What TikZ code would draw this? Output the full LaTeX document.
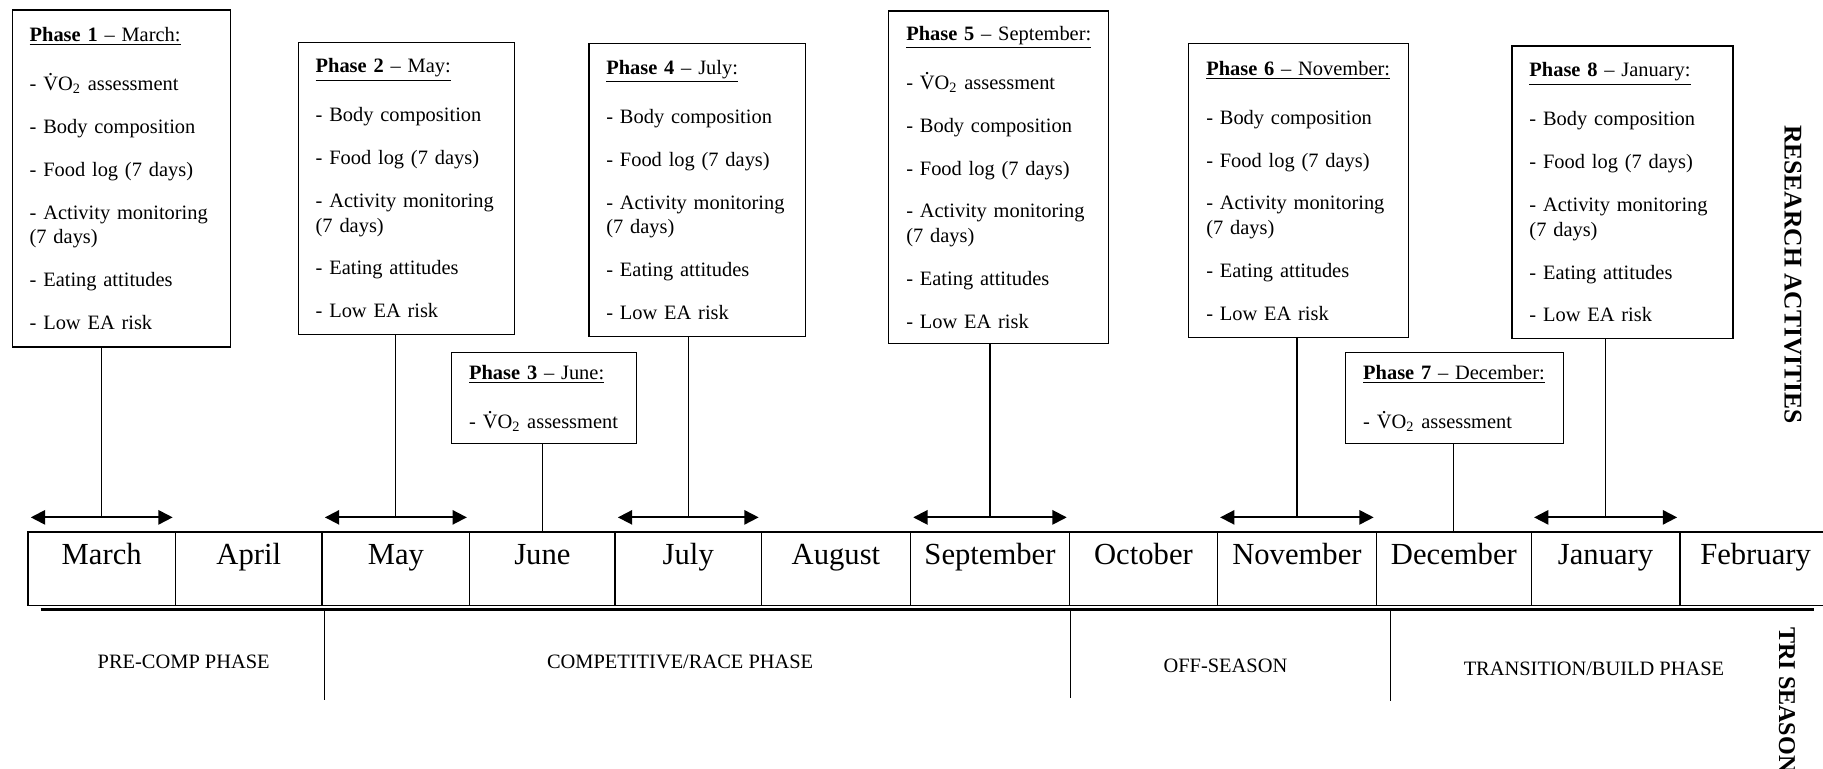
\documentclass[tikz,border=0pt]{standalone}
\usepackage{fontspec}
\setmainfont{Liberation Serif}
\usetikzlibrary{positioning,arrows.meta,calc}

\newcommand{\VOtwo}{\leavevmode\hbox{\ooalign{V\cr\hidewidth\raisebox{0.72em}{.}\hidewidth\cr}}O\textsubscript{2}}
\newcommand{\phasehead}[2]{\underline{\textbf{Phase #1} -- #2:}}
\newcommand{\fullitems}{- Body composition\\[9pt]- Food log (7 days)\\[9pt]- Activity monitoring\\(7 days)\\[9pt]- Eating attitudes\\[9pt]- Low EA risk}

\begin{document}
\begin{tikzpicture}[x=0.02cm,y=-0.02cm,
    phasebox/.style={draw,line width=0.6pt,anchor=north west,align=left,inner xsep=0.3cm,inner ysep=0pt,font=\fontsize{10}{12}\selectfont},
    monthcell/.style={draw,line width=0.6pt,anchor=north,inner sep=0pt,text height=0.56cm,text depth=0.7cm,font=\fontsize{15}{18}\selectfont},
    monthspan/.style={line width=0.9pt,{Triangle[length=7pt,width=7pt]}-{Triangle[length=7pt,width=7pt]}},
    season/.style={font=\fontsize{10}{12}\selectfont},
    sidehead/.style={rotate=-90,font=\fontsize{12.5}{15}\selectfont\bfseries}]
        \useasboundingbox (0,0) rectangle (1568,661);
        \foreach \a/\b/\m in {24/151/March,151/277/April,277/404/May,404/529/June,529/655/July,655/783/August,783/920/September,920/1047/October,1047/1184/November,1184/1317/December,1317/1445/January,1445/1575/February}
          \node[monthcell,minimum width={(\b-\a)*0.02cm}] (\m) at ({(\a+\b)/2},457) {\m};
        \node[phasebox,text width=3.16cm,minimum height=5.8cm] (p1) at (10,8) {\phasehead{1}{March}\\[12pt]- \VOtwo{} assessment\\[9pt]\fullitems};
        \node[phasebox,text width=3.12cm,minimum height=5.02cm] (p2) at (256,36) {\phasehead{2}{May}\\[12pt]\fullitems};
        \node[phasebox,text width=2.58cm,minimum height=1.56cm] (p3) at (388,303) {\phasehead{3}{June}\\[12pt]- \VOtwo{} assessment};
        \node[phasebox,text width=3.12cm,minimum height=5.04cm] (p4) at (506,37) {\phasehead{4}{July}\\[12pt]\fullitems};
        \node[phasebox,text width=3.18cm,minimum height=5.72cm] (p5) at (764,9) {\phasehead{5}{September}\\[12pt]- \VOtwo{} assessment\\[9pt]\fullitems};
        \node[phasebox,text width=3.18cm,minimum height=5.06cm] (p6) at (1022,37) {\phasehead{6}{November}\\[12pt]\fullitems};
        \node[phasebox,text width=3.14cm,minimum height=1.56cm] (p7) at (1157,303) {\phasehead{7}{December}\\[12pt]- \VOtwo{} assessment};
        \node[phasebox,text width=3.2cm,minimum height=5.04cm] (p8) at (1300,39) {\phasehead{8}{January}\\[12pt]\fullitems};
        \foreach \m/\p in {March/p1,May/p2,July/p4,September/p5,November/p6,January/p8} {
          \coordinate (\m-mid) at ($(\m.north)+(0,-12)$);
          \draw[monthspan] ($(\m.north west)+(3,-12)$) -- ($(\m.north east)+(-3,-12)$);
          \draw[line width=0.6pt] (\m-mid) -- (\m-mid |- \p.south);
        }
        \draw[line width=0.6pt] (June.north) -- (June.north |- p3.south);
        \draw[line width=0.6pt] (December.north) -- (December.north |- p7.south);
        \draw[line width=1.4pt] (35,524) -- (1560,524);
        \foreach \x/\y in {279/602,921/600,1196/603}
          \draw[line width=0.6pt] (\x,524) -- (\x,\y);
        \node[season] (precomp) at (158,569) {PRE-COMP PHASE};
        \node[season] (race) at (585,569) {COMPETITIVE/RACE PHASE};
        \node[season] (off) at (1054,573) {OFF-SEASON};
        \node[season] (build) at (1371,575) {TRANSITION/BUILD PHASE};
        \node[sidehead] (research) at (1542,236) {RESEARCH ACTIVITIES};
        \node[sidehead,font=\fontsize{11.8}{14}\selectfont\bfseries] (tri) at (1537,602) {TRI SEASON};
      \end{tikzpicture}
\end{document}
